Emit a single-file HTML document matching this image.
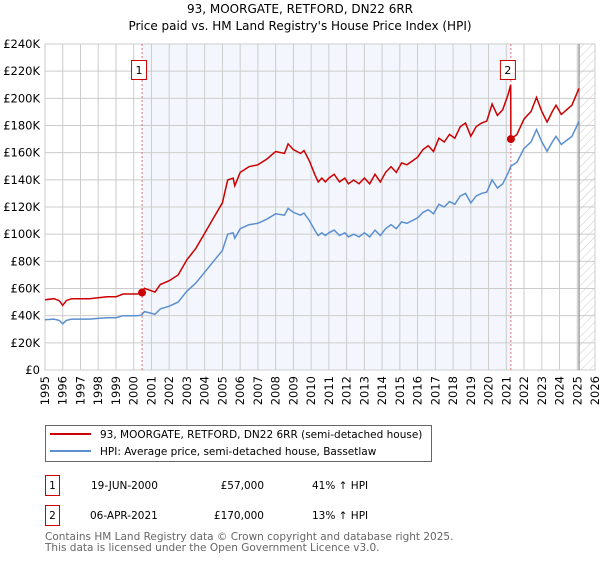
<!DOCTYPE html>
<html><head><meta charset="utf-8"><style>
body{margin:0;background:#fff;font-family:"DejaVu Sans","Liberation Sans",sans-serif;}
svg text{font-family:"DejaVu Sans","Liberation Sans",sans-serif;}
</style></head><body>
<svg id="chart" width="600" height="560" viewBox="0 0 600 560">
<defs><pattern id="hatch" width="6" height="6" patternUnits="userSpaceOnUse" patternTransform="rotate(45)"><line x1="0" y1="0" x2="0" y2="6" stroke="#ccc" stroke-width="1"/></pattern></defs>
<text x="300" y="13" text-anchor="middle" font-size="12">93, MOORGATE, RETFORD, DN22 6RR</text>
<text x="300" y="30" text-anchor="middle" font-size="12">Price paid vs. HM Land Registry's House Price Index (HPI)</text>
<g id="plot"></g>
<g>
<rect x="45.5" y="425.5" width="386" height="36" fill="#fff" stroke="#666"/>
<line x1="50" y1="434" x2="91" y2="434" stroke="#cc0000" stroke-width="2"/>
<text x="100" y="438" font-size="10.5">93, MOORGATE, RETFORD, DN22 6RR (semi-detached house)</text>
<line x1="50" y1="451" x2="91" y2="451" stroke="#5b8fd0" stroke-width="2"/>
<text x="100" y="455" font-size="10.5">HPI: Average price, semi-detached house, Bassetlaw</text>
</g>
<g font-size="10.5">
<rect x="45.5" y="475.5" width="14" height="20" fill="#fff" stroke="#cc0000"/>
<text x="52.5" y="489" text-anchor="middle">1</text>
<text x="91" y="489">19-JUN-2000</text>
<text x="264" y="489" text-anchor="end">£57,000</text>
<text x="312" y="489">41% ↑ HPI</text>
<rect x="45.5" y="505.5" width="14" height="20" fill="#fff" stroke="#cc0000"/>
<text x="52.5" y="519" text-anchor="middle">2</text>
<text x="90" y="519">06-APR-2021</text>
<text x="264" y="519" text-anchor="end">£170,000</text>
<text x="312" y="519">13% ↑ HPI</text>
</g>
<text x="45" y="540" font-size="10.5" fill="#666">Contains HM Land Registry data © Crown copyright and database right 2025.</text>
<text x="45" y="551" font-size="10.5" fill="#666">This data is licensed under the Open Government Licence v3.0.</text>
</svg>
<script>
const hpiYears=[1995,1995.5,1995.8,1996.0,1996.2,1996.5,1997,1997.5,1998,1998.5,1999,1999.4,1999.8,2000.2,2000.45,2000.6,2000.9,2001.2,2001.5,2002,2002.5,2003,2003.5,2004,2004.5,2005,2005.3,2005.6,2005.7,2006,2006.5,2007,2007.5,2008,2008.5,2008.7,2009,2009.4,2009.6,2009.9,2010.2,2010.4,2010.6,2010.8,2011,2011.3,2011.6,2011.9,2012.1,2012.4,2012.7,2013,2013.3,2013.6,2013.9,2014.2,2014.5,2014.8,2015.1,2015.4,2015.7,2016,2016.3,2016.6,2016.9,2017.2,2017.5,2017.8,2018.1,2018.4,2018.7,2019,2019.3,2019.6,2019.9,2020.2,2020.5,2020.8,2021.1,2021.26,2021.6,2022,2022.4,2022.7,2023,2023.3,2023.6,2023.8,2024.1,2024.4,2024.7,2025.1];
const hpiValues=[37,37.5,36.5,34,36.5,37.5,37.5,37.5,38,38.5,38.5,40,40,40,40.4,43,42,41,45,47,50,58,64,72,80,88,100,101,97,104,107,108,111,115,114,119,116,114,115.5,110,103,99,101,99,101,103,99,101,98,100,98,101,98,103,99,104,107,104,109,108,110,112,116,118,115,122,120,124,122,128,130,123,128,130,131,140,134,137,145,150,153,163,168,177,168,161,168,172,166,169,172,183];
const sales=[{year:2000.47,price:57},{year:2021.26,price:170}];
const ticksY=[0,20,40,60,80,100,120,140,160,180,200,220,240];
const ticksX=[1995,1996,1997,1998,1999,2000,2001,2002,2003,2004,2005,2006,2007,2008,2009,2010,2011,2012,2013,2014,2015,2016,2017,2018,2019,2020,2021,2022,2023,2024,2025,2026];
const X0=45,X1=595,Y0=370,Y1=44;
const sx=y=>X0+(y-1995)/(2026-1995)*(X1-X0);
const sy=v=>Y0-v/240*(Y0-Y1);
const NS='http://www.w3.org/2000/svg';
const g=document.getElementById('plot');
function mk(t,a){const e=document.createElementNS(NS,t);for(const k in a)e.setAttribute(k,a[k]);g.appendChild(e);return e;}
function hpiAt(t){for(let i=1;i<hpiYears.length;i++){if(t<=hpiYears[i]){const f=(t-hpiYears[i-1])/(hpiYears[i]-hpiYears[i-1]);return hpiValues[i-1]+f*(hpiValues[i]-hpiValues[i-1]);}}return hpiValues[hpiValues.length-1];}
let r=mk('rect',{x:sx(sales[0].year),y:Y1,width:sx(sales[1].year)-sx(sales[0].year),height:Y0-Y1,fill:'#eef3fc',opacity:0.7});


let h=mk('rect',{x:sx(2025.1),y:Y1,width:X1-sx(2025.1),height:Y0-Y1,fill:'url(#hatch)'});


ticksY.forEach(v=>{const l=mk('line',{x1:X0,x2:X1,y1:sy(v),y2:sy(v),stroke:'#ccc'});


const t=mk('text',{x:X0-5,y:sy(v)+4,'text-anchor':'end','font-size':'11.5'});t.textContent=v===0?'£0':'£'+v+'K';

});
ticksX.forEach(y=>{const l=mk('line',{x1:sx(y),x2:sx(y),y1:Y1,y2:Y0,stroke:'#ccc'});


const t=mk('text',{x:0,y:0,'font-size':'11.5','text-anchor':'end',transform:`translate(${sx(y)+4},${Y0+6}) rotate(-90)`});t.textContent=y;

});
let ax=mk('rect',{x:X0,y:Y1,width:X1-X0,height:Y0-Y1,fill:'none',stroke:'#ccc'});


let nl=mk('line',{x1:sx(2025.1),x2:sx(2025.1),y1:Y1,y2:Y0,stroke:'#888','stroke-width':1.2});


sales.forEach((s,i)=>{const l=mk('line',{x1:sx(s.year),x2:sx(s.year),y1:Y1,y2:Y0,stroke:'#e05050','stroke-dasharray':'2,2','stroke-width':0.8});

});
// HPI line
let d=hpiYears.map((y,i)=>(i?'L':'M')+sx(y).toFixed(1)+','+sy(hpiValues[i]).toFixed(1)).join('');
let hl=mk('path',{d:d,fill:'none',stroke:'#5b8fd0','stroke-width':1.5});


// Property line: HPI indexed to sale prices
const r1=sales[0].price/hpiAt(sales[0].year), r2=sales[1].price/hpiAt(sales[1].year);
let pts=[];
hpiYears.forEach((y,i)=>{if(y<sales[1].year)pts.push([y,hpiValues[i]*r1]);});
pts.push([sales[1].year-0.01,hpiAt(sales[1].year)*r1]);
pts.push([sales[1].year,sales[1].price]);
hpiYears.forEach((y,i)=>{if(y>sales[1].year)pts.push([y,hpiValues[i]*r2]);});
let rd=pts.map((p,i)=>(i?'L':'M')+sx(p[0]).toFixed(1)+','+sy(p[1]).toFixed(1)).join('');
let pl=mk('path',{d:rd,fill:'none',stroke:'#cc0000','stroke-width':1.5});


sales.forEach((s,i)=>{const c=mk('circle',{cx:sx(s.year),cy:sy(s.price),r:4,fill:'#cc0000'});


const b=mk('rect',{x:sx(s.year)-10.5,y:60.5,width:15,height:19,fill:'#fff',stroke:'#cc0000'});


const t=mk('text',{x:sx(s.year)-3,y:74,'text-anchor':'middle','font-size':'11'});t.textContent=String(i+1);

});
</script>
</body></html>
